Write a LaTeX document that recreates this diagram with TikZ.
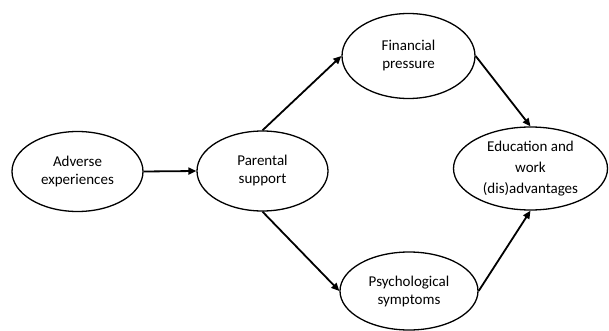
\documentclass[tikz,border=0pt]{standalone}
\usepackage{fontspec}
\setmainfont{Carlito}
\usepackage{tikz}
\usetikzlibrary{
	arrows.meta,
	shapes.geometric
}

\begin{document}
\begin{tikzpicture}[x=1pt, y=-1pt,
		var/.style={ellipse, draw, line width=1.3pt, inner sep=0pt, align=center, font=\fontsize{15}{18}\selectfont},
		path/.style={line width=1.8pt, -{Triangle[length=8pt, width=7pt]}}]
		\useasboundingbox (0,0) rectangle (609,331);
		
		% Knoten
		\node[var, minimum width=131pt, minimum height=80pt] (adv) at (77.5,171.5) {Adverse\\experiences};
		\node[var, minimum width=131pt, minimum height=80pt] (par) at (262.5,171) {Parental\\support};
		\node[var, minimum width=133pt, minimum height=85pt] (fin) at (408.5,56) {Financial\\pressure};
		\node[var, minimum width=138pt, minimum height=78pt] (psy) at (409,291) {Psychological\\symptoms};
		\node[var, minimum width=154pt, minimum height=83pt, font=\fontsize{15}{21}\selectfont] (edu) at (530.5,168.5) {Education and\\work\\(dis)advantages};
		
		% Pfade
		\draw[path] (adv.east) -- (par.west);
		\draw[path] (par.north) -- (fin.west);
		\draw[path] (par.south) -- (psy.west);
		\draw[path] (fin.east) -- (edu.north);
		\draw[path] (psy.east) -- (edu.south);
	\end{tikzpicture}
\end{document}
